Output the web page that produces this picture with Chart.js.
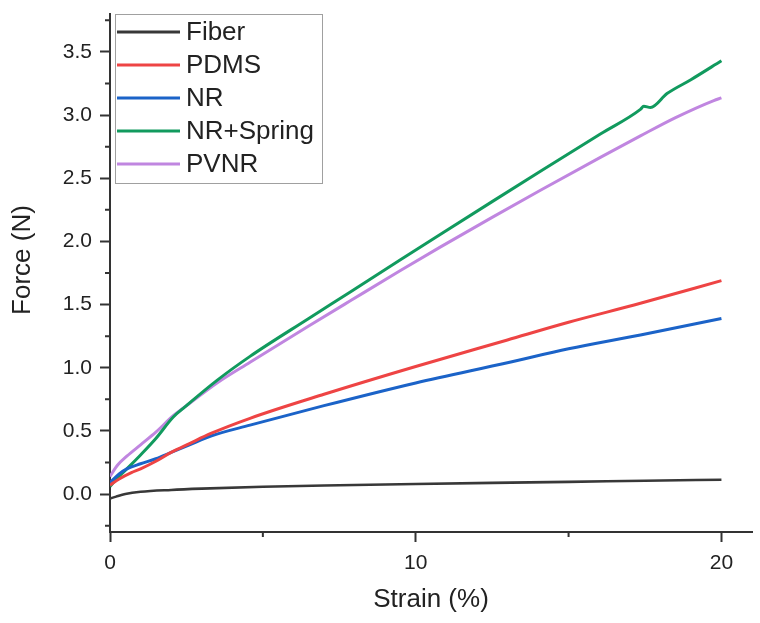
<!DOCTYPE html>
<html>
<head>
<meta charset="utf-8">
<script src="https://cdn.jsdelivr.net/npm/chart.js@4/dist/chart.umd.min.js"></script>
<style>
  html, body { margin: 0; padding: 0; background: #fff; }
  #wrap { width: 760px; height: 623px; position: relative; }
</style>
</head>
<body>
<div id="wrap"><canvas id="chart"></canvas></div>
<script>
// values
const seriesNames = ['Fiber', 'PDMS', 'NR', 'NR+Spring', 'PVNR']
const seriesColors = ['#383838', '#ee4444', '#1b63c8', '#119a5e', '#c086e0']

const fiberX = [0, 0.2, 0.5, 1, 2, 3, 5, 7.5, 10, 12.5, 15, 17.5, 20]
const fiberY = [-0.035, -0.02, 0.0, 0.018, 0.033, 0.043, 0.058, 0.07, 0.08, 0.089, 0.097, 0.106, 0.114]

const pdmsX = [0, 0.3, 0.7, 1, 1.5, 2, 2.6, 3.3, 4.58, 7, 10, 13, 15, 17.35, 20]
const pdmsY = [0.07, 0.12, 0.17, 0.2, 0.26, 0.33, 0.4, 0.48, 0.6, 0.79, 1.01, 1.22, 1.36, 1.51, 1.69]

const nrX = [0, 0.3, 0.55, 1, 1.5, 2, 2.6, 3.3, 4.58, 7, 10, 13, 15, 17.35, 20]
const nrY = [0.09, 0.16, 0.2, 0.24, 0.28, 0.33, 0.39, 0.46, 0.546, 0.7, 0.88, 1.04, 1.15, 1.26, 1.39]

const springX = [0, 0.25, 0.55, 1, 1.5, 2.07, 2.45, 3.5, 4.58, 6.5, 7.86, 9.5, 10.8, 12.5, 14.08, 16.04, 17.35, 17.46, 17.68, 18.22, 19, 20]
const springY = [0.06, 0.13, 0.2, 0.31, 0.44, 0.61, 0.69, 0.9, 1.09, 1.39, 1.6, 1.855, 2.055, 2.315, 2.555, 2.85, 3.045, 3.07, 3.06, 3.17, 3.28, 3.43]

const pvnrX = [0, 0.25, 0.55, 1, 1.5, 2.07, 2.45, 3.5, 4.58, 6.5, 7.86, 9.5, 10.8, 12.5, 14.08, 16.04, 17.35, 18.5, 19.75, 20]
const pvnrY = [0.14, 0.23, 0.3, 0.39, 0.49, 0.62, 0.69, 0.88, 1.044, 1.33, 1.53, 1.77, 1.955, 2.19, 2.405, 2.665, 2.835, 2.98, 3.115, 3.136]

const yMajorTicks = [0, 0.5, 1, 1.5, 2, 2.5, 3, 3.5]
const yMinorTicks = [-0.25, 0.25, 0.75, 1.25, 1.75, 2.25, 2.75, 3.25, 3.75]
const xMajorTicks = [0, 10, 20]
const xMinorTicks = [5, 15]

const FONT = "'Liberation Sans', Arial, sans-serif"
const AXIS_COLOR = '#333'
const TEXT_COLOR = '#222'

const toPoints = function (xs, ys) {
    return xs.map(function (x, i) { return { x: x, y: ys[i] } })
}

const allSeries = [
    toPoints(fiberX, fiberY),
    toPoints(pdmsX, pdmsY),
    toPoints(nrX, nrY),
    toPoints(springX, springY),
    toPoints(pvnrX, pvnrY)
]

const datasets = allSeries.map(function (points, i) {
    return {
        label: seriesNames[i],
        data: points,
        borderColor: seriesColors[i],
        backgroundColor: seriesColors[i],
        borderWidth: i === 0 ? 2.6 : 3,
        pointRadius: 0,
        fill: false,
        cubicInterpolationMode: 'monotone'
    }
})

// short outward minor ticks on both axes
const minorTicksPlugin = {
    id: 'minorTicks',
    afterDraw: function (chart) {
        const ctx = chart.ctx
        const xs = chart.scales.x
        const ys = chart.scales.y
        const area = chart.chartArea
        ctx.save()
        ctx.strokeStyle = AXIS_COLOR
        ctx.lineWidth = 2
        ctx.beginPath()
        yMinorTicks.forEach(function (v) {
            const py = ys.getPixelForValue(v)
            if (py < area.top - 1 || py > area.bottom + 1) return
            ctx.moveTo(area.left - 5, py)
            ctx.lineTo(area.left, py)
        })
        xMinorTicks.forEach(function (v) {
            const px = xs.getPixelForValue(v)
            ctx.moveTo(px, area.bottom)
            ctx.lineTo(px, area.bottom + 5)
        })
        ctx.stroke()
        ctx.restore()
    }
}

// y title drawn by hand, it sits a bit above the middle of the axis
const yTitlePlugin = {
    id: 'yTitle',
    afterDraw: function (chart) {
        const ctx = chart.ctx
        const area = chart.chartArea
        ctx.save()
        ctx.translate(23, (area.top + area.bottom) / 2 - 13)
        ctx.rotate(-Math.PI / 2)
        ctx.font = '26px ' + FONT
        ctx.fillStyle = TEXT_COLOR
        ctx.textAlign = 'center'
        ctx.textBaseline = 'middle'
        ctx.fillText('Force (N)', 0, 0)
        ctx.restore()
    }
}

// boxed legend inside the plot, top left
const boxLegendPlugin = {
    id: 'boxLegend',
    afterDraw: function (chart) {
        const ctx = chart.ctx
        const area = chart.chartArea
        const left = area.left + 5
        const top = area.top
        const width = 207
        const rowH = 33
        const height = 169
        ctx.save()
        ctx.fillStyle = '#fff'
        ctx.fillRect(left, top, width, height)
        ctx.strokeStyle = '#a0a0a0'
        ctx.lineWidth = 1
        ctx.strokeRect(left + 0.5, top + 0.5, width, height)
        ctx.font = '26px ' + FONT
        ctx.textBaseline = 'middle'
        chart.data.datasets.forEach(function (ds, i) {
            const cy = top + 18 + i * rowH
            ctx.strokeStyle = ds.borderColor
            ctx.lineWidth = 3
            ctx.beginPath()
            ctx.moveTo(left + 2, cy)
            ctx.lineTo(left + 65, cy)
            ctx.stroke()
            ctx.fillStyle = TEXT_COLOR
            ctx.fillText(ds.label, left + 71, cy + 1)
        })
        ctx.restore()
    }
}

const ctx = document.getElementById('chart')
new Chart(ctx, {
    type: 'line',
    data: { datasets: datasets },
    options: {
        responsive: true,
        maintainAspectRatio: false,
        animation: false,
        layout: { padding: { top: 14, right: 8, bottom: 0, left: 0 } },
        plugins: {
            legend: { display: false },
            tooltip: { enabled: false }
        },
        scales: {
            x: {
                type: 'linear',
                min: 0,
                max: 21,
                afterFit: function (scale) { scale.height = 91 },
                afterBuildTicks: function (scale) {
                    scale.ticks = xMajorTicks.map(function (v) { return { value: v } })
                },
                border: { display: true, color: AXIS_COLOR, width: 2 },
                grid: {
                    drawOnChartArea: false,
                    drawTicks: true,
                    tickLength: 10,
                    tickWidth: 2,
                    tickColor: AXIS_COLOR
                },
                ticks: {
                    padding: 9,
                    maxRotation: 0,
                    color: TEXT_COLOR,
                    font: { family: FONT, size: 21 },
                    callback: function (v) { return v }
                },
                title: {
                    display: true,
                    text: 'Strain (%)',
                    color: TEXT_COLOR,
                    font: { family: FONT, size: 26 },
                    padding: { top: 0, bottom: 8 }
                }
            },
            y: {
                type: 'linear',
                min: -0.3,
                max: 3.8,
                afterFit: function (scale) {
                    scale.width = 110
                    scale.paddingTop = 0
                    scale.paddingBottom = 0
                },
                afterBuildTicks: function (scale) {
                    scale.ticks = yMajorTicks.map(function (v) { return { value: v } })
                },
                border: { display: true, color: AXIS_COLOR, width: 2 },
                grid: {
                    drawOnChartArea: false,
                    drawTicks: true,
                    tickLength: 10,
                    tickWidth: 2,
                    tickColor: AXIS_COLOR
                },
                ticks: {
                    padding: 8,
                    color: TEXT_COLOR,
                    font: { family: FONT, size: 21 },
                    callback: function (v) { return Number(v).toFixed(1) }
                },
                title: { display: false }
            }
        }
    },
    plugins: [minorTicksPlugin, yTitlePlugin, boxLegendPlugin]
})
</script>
</body>
</html>
